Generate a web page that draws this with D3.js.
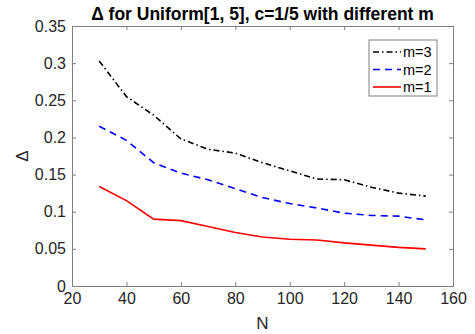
<!DOCTYPE html>
<html>
<head>
<meta charset="utf-8">
<script src="https://cdn.jsdelivr.net/npm/d3@7"></script>
<style>
  body { margin: 0; background: #fff; }
  svg { font-family: "Liberation Sans", Arial, sans-serif; }
  .axis text { font-size: 16px; fill: #262626; }
  .axis line, .axis path { stroke: #808080; }
</style>
</head>
<body>
<svg width="475" height="334"></svg>
<script>
"use strict";
const nValues = [30, 40, 50, 60, 70, 80, 90, 100, 110, 120, 130, 140, 150];
const m3 = [0.303, 0.255, 0.230, 0.198, 0.184, 0.179, 0.166, 0.155, 0.144, 0.143, 0.133, 0.125, 0.121];
const m2 = [0.215, 0.196, 0.166, 0.152, 0.143, 0.131, 0.119, 0.111, 0.105, 0.098, 0.095, 0.094, 0.089];
const m1 = [0.134, 0.115, 0.090, 0.088, 0.080, 0.072, 0.066, 0.063, 0.062, 0.058, 0.055, 0.052, 0.050];
const xTicks = [20, 40, 60, 80, 100, 120, 140, 160];
const yTicks = [0, 0.05, 0.1, 0.15, 0.2, 0.25, 0.3, 0.35];
const series = [
    { name: "m=3", values: m3, color: "#000000", dash: "6,3,1.5,3" },
    { name: "m=2", values: m2, color: "#0000ff", dash: "7,5" },
    { name: "m=1", values: m1, color: "#ff0000", dash: null }
];

const svg = d3.select("svg");
const margin = { left: 72, right: 22, top: 26, bottom: 48 };
const width = 475 - margin.left - margin.right;
const height = 334 - margin.top - margin.bottom;

const x = d3.scaleLinear().domain([20, 160]).range([margin.left, margin.left + width]);
const y = d3.scaleLinear().domain([0, 0.35]).range([margin.top + height, margin.top]);
const fmt = d => d === 0 ? "0" : String(+d.toFixed(2));

// box with inward ticks
svg.append("g")
    .attr("class", "axis")
    .attr("transform", `translate(0, ${margin.top + height})`)
    .call(d3.axisBottom(x).tickValues(xTicks).tickSize(-4).tickPadding(6).tickFormat(d3.format("d")))
    .call(g => g.selectAll("text").attr("dy", "0.78em"));
svg.append("g")
    .attr("class", "axis")
    .attr("transform", `translate(0, ${margin.top})`)
    .call(d3.axisTop(x).tickValues(xTicks).tickSize(-4).tickFormat(""));
svg.append("g")
    .attr("class", "axis")
    .attr("transform", `translate(${margin.left}, 0)`)
    .call(d3.axisLeft(y).tickValues(yTicks).tickSize(-4).tickPadding(6).tickFormat(fmt));
svg.append("g")
    .attr("class", "axis")
    .attr("transform", `translate(${margin.left + width}, 0)`)
    .call(d3.axisRight(y).tickValues(yTicks).tickSize(-4).tickFormat(""));

const line = d3.line()
    .x((d, i) => x(nValues[i]))
    .y(d => y(d));

svg.append("g")
    .selectAll("path")
    .data(series)
    .enter()
    .append("path")
    .attr("d", d => line(d.values))
    .attr("fill", "none")
    .attr("stroke", d => d.color)
    .attr("stroke-width", 1.6)
    .attr("stroke-dasharray", d => d.dash);

// title and labels
svg.append("text")
    .attr("x", margin.left + width / 2)
    .attr("y", 20)
    .attr("text-anchor", "middle")
    .style("font-size", "17.5px")
    .style("font-weight", "bold")
    .style("fill", "#000")
    .text("Δ for Uniform[1, 5], c=1/5 with different m");
svg.append("text")
    .attr("x", margin.left + width / 2)
    .attr("y", 329)
    .attr("text-anchor", "middle")
    .style("font-size", "17px")
    .style("fill", "#262626")
    .text("N");
svg.append("text")
    .attr("transform", `translate(28, ${margin.top + height / 2}) rotate(-90)`)
    .attr("text-anchor", "middle")
    .style("font-size", "17px")
    .style("fill", "#262626")
    .text("Δ");

// legend
const legend = svg.append("g").attr("transform", "translate(369, 40)");
legend.append("rect")
    .attr("width", 68)
    .attr("height", 56)
    .attr("fill", "#fff")
    .attr("stroke", "#808080");
const item = legend.selectAll(".item")
    .data(series)
    .enter()
    .append("g")
    .attr("class", "item")
    .attr("transform", (d, i) => `translate(0, ${12 + i * 17.5})`);
item.append("line")
    .attr("x1", 4).attr("x2", 32)
    .attr("stroke", d => d.color)
    .attr("stroke-width", 1.6)
    .attr("stroke-dasharray", d => d.dash);
item.append("text")
    .attr("x", 34)
    .attr("dy", "0.35em")
    .style("font-size", "14.5px")
    .style("fill", "#000")
    .text(d => d.name);
</script>
</body>
</html>
